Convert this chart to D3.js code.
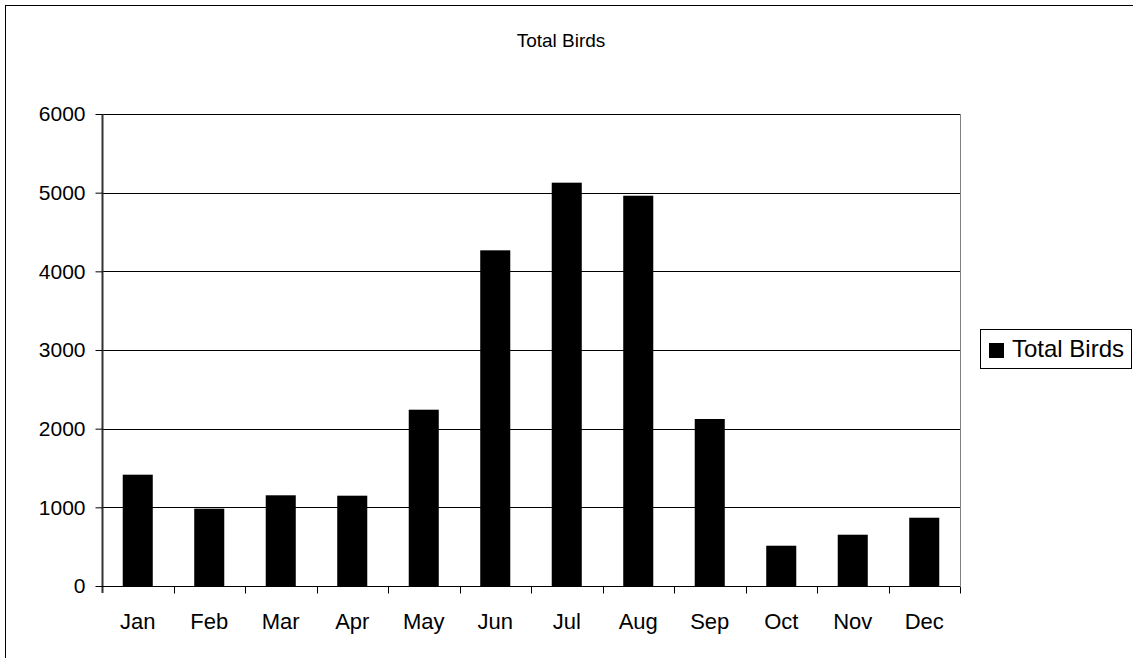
<!DOCTYPE html>
<html><head><meta charset="utf-8">
<script src="https://cdn.jsdelivr.net/npm/d3@7"></script>
<style>
html,body{margin:0;padding:0;background:#fff;}
svg{display:block;font-family:"Liberation Sans",Arial,sans-serif;}
</style></head>
<body>
<svg id="c" width="1133" height="658"></svg>
<script>
const months = ["Jan","Feb","Mar","Apr","May","Jun","Jul","Aug","Sep","Oct","Nov","Dec"];
const totalBirds = [1415, 983, 1153, 1148, 2241, 4267, 5127, 4961, 2123, 512, 652, 868];
const yTicks = [0, 1000, 2000, 3000, 4000, 5000, 6000];
const seriesName = "Total Birds";
const chartTitle = "Total Birds";

const svg = d3.select("#c");
const L = 102, R = 960, T = 114, B = 586;

// outer chart frame
svg.append("rect").attr("x",5.5).attr("y",5.5).attr("width",1200).attr("height",800)
  .attr("fill","#fff").attr("stroke","#000").attr("stroke-width",1);

const x = d3.scaleBand().domain(months).range([L,R]).paddingInner(0.58).paddingOuter(0.29);
const xCat = d3.scaleBand().domain(months).range([L,R]).padding(0);
const y = d3.scaleLinear().domain([0,6000]).range([B,T]);

// gridlines
svg.append("g").selectAll("line").data(yTicks.filter(d=>d>0)).join("line")
  .attr("x1",L).attr("x2",R)
  .attr("y1",d=>Math.round(y(d))+0.5).attr("y2",d=>Math.round(y(d))+0.5)
  .attr("stroke","#000").attr("stroke-width",1);

// plot area right border
svg.append("line").attr("x1",R+0.5).attr("x2",R+0.5).attr("y1",T).attr("y2",B)
  .attr("stroke","#808080");

// bars
svg.append("g").selectAll("rect").data(totalBirds).join("rect")
  .attr("x",(d,i)=>x(months[i]))
  .attr("width",x.bandwidth())
  .attr("y",d=>y(d))
  .attr("height",d=>B-y(d))
  .attr("fill","#000");

// y axis
const yAxis = d3.axisLeft(y).tickValues(yTicks).tickSize(7).tickPadding(10).tickFormat(d3.format("d"));
const gy = svg.append("g").attr("transform",`translate(${L+0.5},0)`).call(yAxis);
gy.select(".domain").attr("stroke","#333").attr("stroke-width",2).attr("d",`M0,${T}V${B+7}`);
gy.selectAll(".tick line").attr("stroke","#000");
gy.selectAll("text").attr("font-size",21).attr("fill","#000").attr("font-family","Liberation Sans, Arial, sans-serif");

// x axis
const gx = svg.append("g").attr("transform",`translate(0,${B+0.5})`);
gx.append("line").attr("x1",L).attr("x2",R).attr("stroke","#000");
gx.selectAll(".tk").data(months.slice(1).concat(["_end"])).join("line")
  .attr("class","tk")
  .attr("x1",(d,i)=>Math.round(xCat(months[i])+xCat.bandwidth())+0.5)
  .attr("x2",(d,i)=>Math.round(xCat(months[i])+xCat.bandwidth())+0.5)
  .attr("y1",0).attr("y2",7).attr("stroke","#000");
gx.selectAll("text").data(months).join("text")
  .attr("x",d=>xCat(d)+xCat.bandwidth()/2)
  .attr("y",42)
  .attr("text-anchor","middle")
  .attr("font-size",22)
  .attr("fill","#000")
  .text(d=>d);

// title
svg.append("text").attr("x",561).attr("y",47).attr("text-anchor","middle")
  .attr("font-size",19).attr("fill","#000").text(chartTitle);

// legend
const lg = svg.append("g");
lg.append("rect").attr("x",980.5).attr("y",329.5).attr("width",151).attr("height",39)
  .attr("fill","#fff").attr("stroke","#000");
lg.append("rect").attr("x",989).attr("y",343).attr("width",15).attr("height",15).attr("fill","#000");
lg.append("text").attr("x",1012).attr("y",357).attr("font-size",24).attr("fill","#000").text(seriesName);
</script>
</body></html>
